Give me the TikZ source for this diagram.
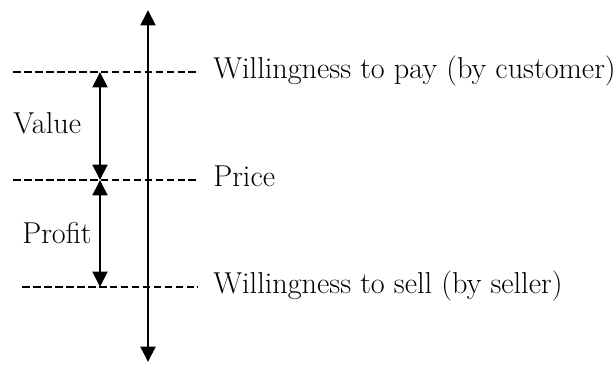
\documentclass[tikz,border=0pt]{standalone}
\usepackage{tikz}
\usetikzlibrary{arrows.meta}

\begin{document}
\begin{tikzpicture}[
    x=0.025cm, y=0.025cm,
    every node/.style={inner sep=0pt, font=\fontsize{21.5}{25}\selectfont},
    range arrow/.style={line width=2pt,
      {Triangle[length=11pt,width=10.5pt]}-{Triangle[length=11pt,width=10.5pt]}},
    level line/.style={line width=0.9pt, dash pattern=on 5.5pt off 2.3pt},
  ]
  \useasboundingbox (0,0) rectangle (615,364);

  % main axis
  \coordinate (top) at (148, 354);
  \coordinate (bottom) at (148, 2);

  % level lines
  \coordinate (wtp start) at (13, 292);
  \coordinate (wtp end) at (198, 292);
  \coordinate (price start) at (13, 184);
  \coordinate (price end) at (198, 184);
  \coordinate (wts start) at (22, 77);
  \coordinate (wts end) at (198, 77);

  % range arrows
  \coordinate (r top) at (100, 292);
  \coordinate (r mid) at (100, 184);
  \coordinate (r bot) at (100, 77);

  \node[anchor=base west] (wtp) at (213, 286) {Willingness to pay (by customer)};
  \node[anchor=base west] (price) at (213, 178) {Price};
  \node[anchor=base west] (wts) at (213, 71) {Willingness to sell (by seller)};
  \node[anchor=west] (value) at (13, 241) {Value};
  \node[anchor=west] (profit) at (22, 131) {Profit};

  \draw[level line] (wtp start) -- (wtp end);
  \draw[level line] (price start) -- (price end);
  \draw[level line] (wts start) -- (wts end);

  \draw[range arrow] (top) -- (bottom);
  \draw[range arrow] (r top) -- (r mid);
  \draw[range arrow] (r mid) -- (r bot);

\end{tikzpicture}
\end{document}
